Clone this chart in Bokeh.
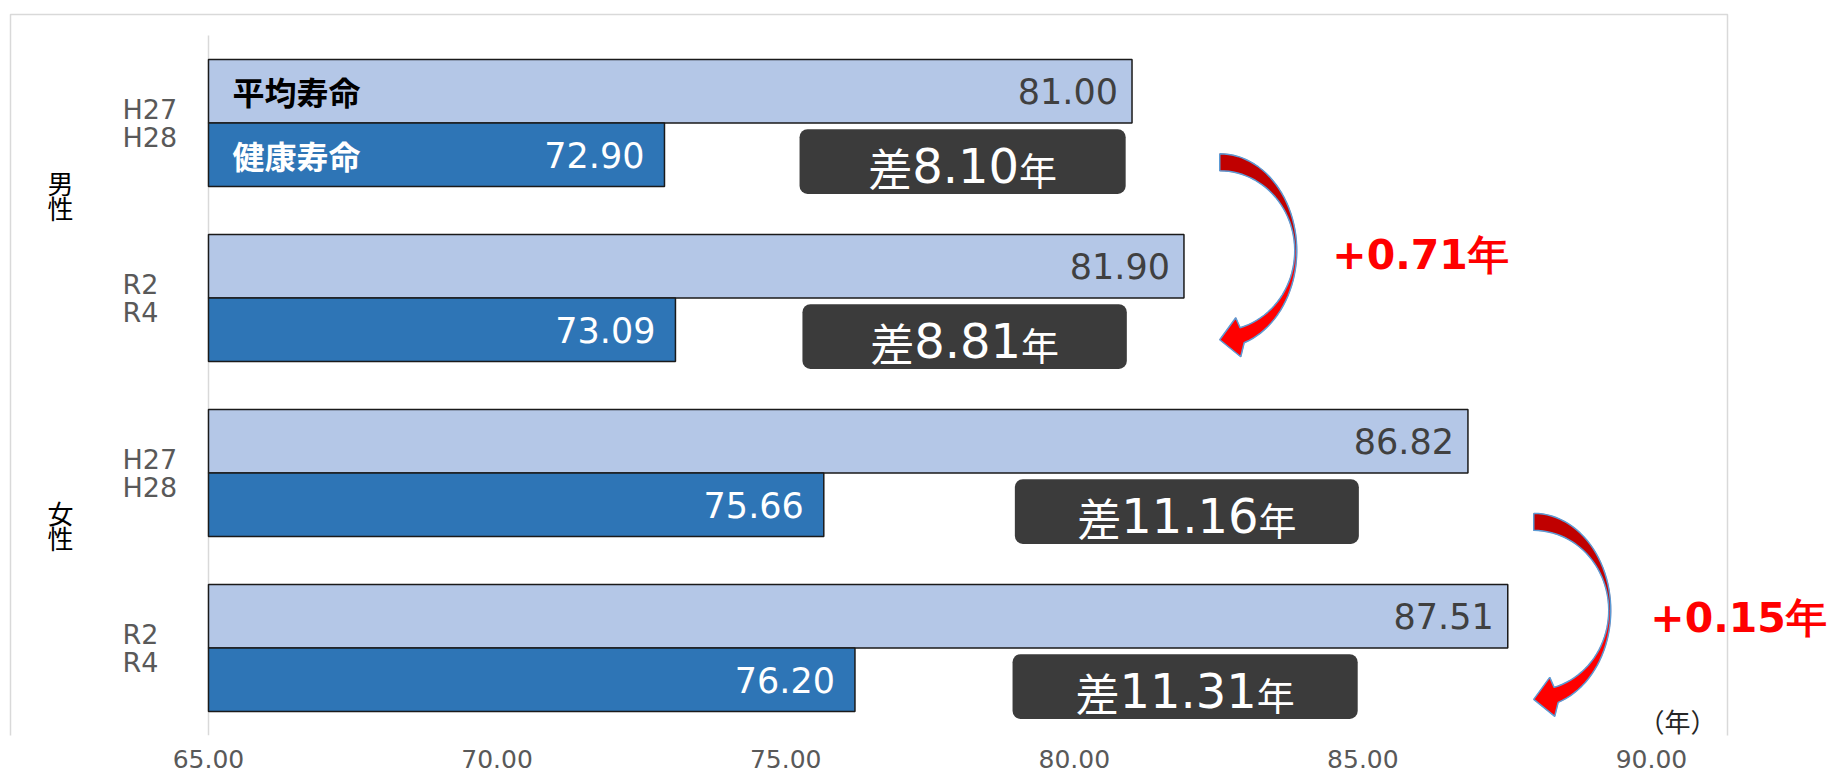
import math
from bokeh.plotting import figure
from bokeh.models import Range1d, FixedTicker, NumeralTickFormatter, ColumnDataSource, Label
from bokeh.core.properties import value
from bokeh.embed import file_html
from bokeh.resources import INLINE

# ---------------- data ----------------
groups = ["H27\nH28", "R2\nR4", "H27\nH28", "R2\nR4"]
sexes = ["男\n性", "女\n性"]
avg_life = [81.00, 81.90, 86.82, 87.51]
healthy_life = [72.90, 73.09, 75.66, 76.20]
series_names = ["平均寿命", "健康寿命"]
x_ticks = [65, 70, 75, 80, 85, 90]
unit_label = "（年）"

gaps = [a - h for a, h in zip(avg_life, healthy_life)]
changes = [gaps[1] - gaps[0], gaps[3] - gaps[2]]

# ---------------- layout constants ----------------
W, H = 1832, 782
PX_X = 57.72          # pixels per year
PX_Y = 175.0          # pixels per group row
X0_PX = 208           # canvas x of 65
XS = 65 - X0_PX / PX_X
XE = XS + W / PX_X
FRAME_H = 735
YT = -0.5 - 35 / PX_Y
YB = YT + FRAME_H / PX_Y
BAR_H = 0.3629
OFF = BAR_H / 2

ypos = list(range(len(groups)))

p = figure(width=W, height=H, x_range=Range1d(XS, XE), y_range=Range1d(YB, YT),
           output_backend="svg", toolbar_location=None, y_axis_location=None,
           min_border_left=0, min_border_right=0, min_border_top=0, min_border_bottom=H - FRAME_H)
p.xgrid.visible = False
p.ygrid.visible = False
p.outline_line_color = None
p.background_fill_color = "white"
p.border_fill_color = "white"

ax = p.xaxis[0]
ax.ticker = FixedTicker(ticks=x_ticks)
ax.formatter = NumeralTickFormatter(format="0.00")
ax.axis_line_color = None
ax.major_tick_line_color = None
ax.minor_tick_line_color = None
ax.major_label_text_font = "DejaVu Sans"
ax.major_label_text_font_size = "25px"
ax.major_label_text_color = "#595959"
ax.major_label_standoff = 8

# chart border (light grey)
bl = 65 + (10 - X0_PX) / PX_X
br = 65 + (1727 - X0_PX) / PX_X
bt = -0.5 + (14 - 35) / PX_Y
p.line(x=[bl, bl, br, br], y=[YB + 1, bt, bt, YB + 1], line_color="#d9d9d9", line_width=1.5)

# vertical axis line
p.segment(x0=[65], y0=[-0.5], x1=[65], y1=[3.5], line_color="#d9d9d9", line_width=1.5)

# bars
src = ColumnDataSource(dict(
    y_avg=[y - OFF for y in ypos], y_h=[y + OFF for y in ypos],
    avg=avg_life, hl=healthy_life,
    avg_txt=[f"{v:.2f}" for v in avg_life], hl_txt=[f"{v:.2f}" for v in healthy_life],
))
p.hbar(y="y_avg", left=65, right="avg", height=BAR_H, source=src,
       fill_color="#B4C7E7", line_color="#1a1a1a", line_width=1.5)
p.hbar(y="y_h", left=65, right="hl", height=BAR_H, source=src,
       fill_color="#2E75B6", line_color="#1a1a1a", line_width=1.5)

# value labels
p.text(x="avg", y="y_avg", text="avg_txt", source=src, x_offset=-14,
       text_align="right", text_baseline="middle", text_font=value("DejaVu Sans"),
       text_font_size="35px", text_color="#404040")
p.text(x="hl", y="y_h", text="hl_txt", source=src, x_offset=-20,
       text_align="right", text_baseline="middle", text_font=value("DejaVu Sans"),
       text_font_size="35px", text_color="#FFFFFF")

# series names inside first pair
p.text(x=[65, 65], y=[ypos[0] - OFF, ypos[0] + OFF], text=series_names, x_offset=24,
       text_align="left", text_baseline="middle", text_font=value("Noto Sans CJK JP"),
       text_font_size="32px", text_font_style="bold", text_color=["#000000", "#FFFFFF"])

# category labels (two lines each, drawn line by line)
gl_y, gl_t, gl_o = [], [], []
for y, lab in zip(ypos, groups):
    lines = lab.split("\n")
    for j, ln in enumerate(lines):
        gl_y.append(y)
        gl_t.append(ln)
        gl_o.append((j - (len(lines) - 1) / 2) * 28)
p.text(x=[65] * len(gl_t), y=gl_y, text=gl_t, x_offset=-86, y_offset=gl_o, text_align="left",
       text_baseline="middle", text_font=value("DejaVu Sans"), text_font_size="27px",
       text_color="#595959")

SEX_Y = [0.41, 2.297]
sx_y, sx_t, sx_o = [], [], []
for y, lab in zip(SEX_Y, sexes):
    chars = lab.split("\n")
    for j, ch in enumerate(chars):
        sx_y.append(y)
        sx_t.append(ch)
        sx_o.append((j - (len(chars) - 1) / 2) * 25)
p.text(x=[65] * len(sx_t), y=sx_y, text=sx_t, x_offset=-148, y_offset=sx_o, text_align="center",
       text_baseline="middle", text_font=value("Noto Sans CJK JP"), text_font_size="26px",
       text_color="#000000")

# difference boxes
BOX_L = [75.24, 75.29, 78.97, 78.93]
BOX_R = [80.89, 80.91, 84.93, 84.91]
BOX_C = [y + 0.22 for y in ypos]
BOX_HH = 0.185
p.quad(left=BOX_L, right=BOX_R, top=[c - BOX_HH for c in BOX_C], bottom=[c + BOX_HH for c in BOX_C],
       fill_color="#3b3b3b", line_color=None, border_radius=8)

KFS, NFS, YFS = 44, 48, 38
cx, cy, k_off, n_off, y_off, ntxt = [], [], [], [], [], []
for i, g in enumerate(gaps):
    s = f"{g:.2f}"
    wn = (sum(ch.isdigit() for ch in s) * 0.636 + s.count(".") * 0.318) * NFS
    total = KFS + wn + YFS
    L = -total / 2
    cx.append((BOX_L[i] + BOX_R[i]) / 2)
    cy.append(BOX_C[i])
    k_off.append(L)
    n_off.append(L + KFS)
    y_off.append(L + KFS + wn)
    ntxt.append(s)
bsrc = ColumnDataSource(dict(x=cx, y=cy, k=k_off, n=n_off, yo=y_off, t=ntxt,
                             sa=["差"] * 4, ne=["年"] * 4))
p.text(x="x", y="y", text="sa", x_offset="k", y_offset=5, source=bsrc, text_align="left",
       text_baseline="middle", text_font=value("Noto Sans CJK JP"), text_font_size=f"{KFS}px",
       text_color="white")
p.text(x="x", y="y", text="t", x_offset="n", y_offset=4, source=bsrc, text_align="left",
       text_baseline="middle", text_font=value("DejaVu Sans"), text_font_size=f"{NFS}px",
       text_color="white")
p.text(x="x", y="y", text="ne", x_offset="yo", y_offset=7, source=bsrc, text_align="left",
       text_baseline="middle", text_font=value("Noto Sans CJK JP"), text_font_size=f"{YFS}px",
       text_color="white")

# curved arrows
ARROW_X = [82.52, 87.96]
ARROW_Y = [0.73, 2.785]
AO, BO, AI, BI = 77.0, 97.0, 75.0, 80.0


def arrow_shapes(axx, ayy):
    def pt(px, py):
        return axx + px / PX_X, ayy + py / PX_Y
    n = 24
    t_oe = math.asin(92 / BO)
    t_ie = math.asin(77 / BI)
    outer_up = [pt(AO * math.cos(t), BO * math.sin(t))
                for t in [-math.pi / 2 + k * (math.pi / 2) / n for k in range(n + 1)]]
    inner_up = [pt(AI * math.cos(t), BI * math.sin(t))
                for t in [-k * (math.pi / 2) / n for k in range(n + 1)]]
    outer_lo = [pt(AO * math.cos(t), BO * math.sin(t))
                for t in [k * t_oe / n for k in range(n + 1)]]
    head = [pt(21, 106), pt(0, 89), pt(16, 67)]
    inner_lo = [pt(AI * math.cos(t), BI * math.sin(t))
                for t in [t_ie - k * t_ie / n for k in range(n + 1)]]
    upper = outer_up + inner_up
    lower = outer_lo + head + inner_lo
    inner_full = [pt(AI * math.cos(t), BI * math.sin(t))
                  for t in [t_ie - k * (t_ie + math.pi / 2) / (2 * n) for k in range(2 * n + 1)]]
    outer_full = [pt(AO * math.cos(t), BO * math.sin(t))
                  for t in [-math.pi / 2 + k * (t_oe + math.pi / 2) / (2 * n) for k in range(2 * n + 1)]]
    outline = outer_full + head + inner_full + [outer_full[0]]
    return upper, lower, outline


pxs, pys, pcols, lxs, lys = [], [], [], [], []
for axx, ayy in zip(ARROW_X, ARROW_Y):
    up, lo, ol = arrow_shapes(axx, ayy)
    for poly, col in ((up, "#C00000"), (lo, "#FF0000")):
        pxs.append([q[0] for q in poly])
        pys.append([q[1] for q in poly])
        pcols.append(col)
    lxs.append([q[0] for q in ol])
    lys.append([q[1] for q in ol])
p.patches(xs=pxs, ys=pys, fill_color=pcols, line_color=pcols, line_width=0.5)
p.multi_line(xs=lxs, ys=lys, line_color="#5B9BD5", line_width=1.5)

# change labels
CH_X = [84.47, 89.98]
CH_Y = [0.757, 2.831]
p.text(x=CH_X, y=CH_Y, text=[f"+{c:.2f}年" for c in changes], text_align="left",
       text_baseline="middle", text_font=value("DejaVu Sans"), text_font_style="bold",
       text_font_size="41px", text_color="#FF0000")

# unit label
p.add_layout(Label(x=90, y=-0.5 + (720 - 35) / PX_Y, x_offset=26, text=unit_label,
                   text_align="center", text_baseline="middle", text_font="Noto Sans CJK JP",
                   text_font_size="26px", text_color="#262626"))

open("out.html", "w").write(file_html(p, INLINE))
